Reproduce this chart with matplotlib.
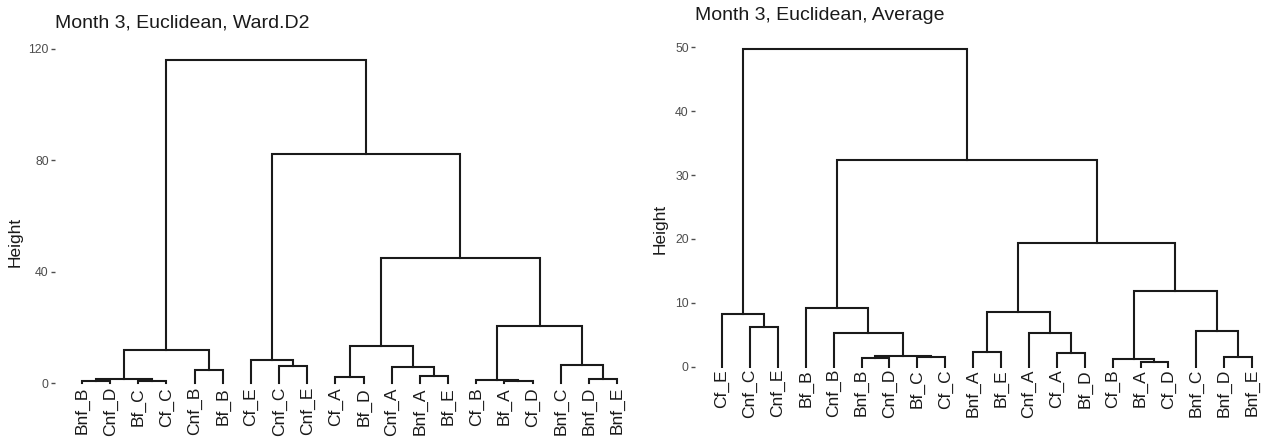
import matplotlib
matplotlib.use('Agg')
import matplotlib.pyplot as plt
import numpy as np

plt.rcParams['font.family'] = ['Liberation Sans', 'DejaVu Sans']

# Ward.D2 clustering, leaves in plotting order
ward_labels = ['Bnf_B', 'Cnf_D', 'Bf_C', 'Cf_C', 'Cnf_B', 'Bf_B', 'Cf_E', 'Cnf_C',
               'Cnf_E', 'Cf_A', 'Bf_D', 'Cnf_A', 'Bnf_A', 'Bf_E', 'Cf_B', 'Bf_A',
               'Cf_D', 'Bnf_C', 'Bnf_D', 'Bnf_E']
# hclust-style merge table: negative = leaf (1-based position), positive = earlier row
ward_merge = [(-16, -17), (-3, -4), (-1, -2), (-15, 1), (-19, -20), (3, 2),
              (-10, -11), (-13, -14), (-5, -6), (-12, 8), (-8, -9), (-18, 5),
              (-7, 11), (6, 9), (7, 10), (4, 12), (15, 16), (13, 17), (14, 18)]
ward_height = [0.7, 1.0, 0.8, 1.1, 1.4, 1.6, 2.1, 2.5, 4.9, 5.8, 6.1, 6.4,
               8.4, 11.8, 13.2, 20.5, 44.8, 82.2, 115.9]

# Average linkage clustering
avg_labels = ['Cf_E', 'Cnf_C', 'Cnf_E', 'Bf_B', 'Cnf_B', 'Bnf_B', 'Cnf_D', 'Bf_C',
              'Cf_C', 'Bnf_A', 'Bf_E', 'Cnf_A', 'Cf_A', 'Bf_D', 'Cf_B', 'Bf_A',
              'Cf_D', 'Bnf_C', 'Bnf_D', 'Bnf_E']
avg_merge = [(-16, -17), (-6, -7), (-8, -9), (-15, 1), (-19, -20), (2, 3),
             (-13, -14), (-10, -11), (-5, 6), (-12, 7), (-18, 5), (-2, -3),
             (-1, 12), (8, 10), (-4, 9), (4, 11), (14, 16), (15, 17), (13, 18)]
avg_height = [0.8, 1.3, 1.45, 1.25, 1.5, 1.7, 2.1, 2.3, 5.3, 5.3, 5.6, 6.2,
              8.2, 8.5, 9.2, 11.9, 19.4, 32.3, 49.7]

ward_ticks = [0, 40, 80, 120]
avg_ticks = [0, 10, 20, 30, 40, 50]

LINE_COLOR = '#1a1a1a'
TICK_COLOR = '#4d4d4d'
W, H = 1274, 441


def draw_dendrogram(ax, merge, height):
    # node -> (x, y); leaves sit on 0, joins sit midway between children
    pos = []

    def node(i):
        if i < 0:
            return (-i, 0.0)
        return pos[i - 1]

    for (a, b), h in zip(merge, height):
        xa, ya = node(a)
        xb, yb = node(b)
        ax.plot([xa, xa, xb, xb], [ya, h, h, yb], color=LINE_COLOR,
                lw=1.5, solid_joinstyle='miter', solid_capstyle='projecting')
        pos.append(((xa + xb) / 2.0, h))


def add_panel(box, leaf0, step, zero_px, unit_px, labels, merge, height,
              ticks, title, title_pad, ylabel_xy):
    left, top, right, bottom = box
    ax = fig.add_axes([left / W, 1 - bottom / H, (right - left) / W, (bottom - top) / H])
    draw_dendrogram(ax, merge, height)

    ax.set_xlim(1 - (leaf0 - left) / step, 1 + (right - leaf0) / step)
    ax.set_ylim((zero_px - bottom) / unit_px, (zero_px - top) / unit_px)

    ax.set_xticks(np.arange(1, len(labels) + 1))
    ax.set_xticklabels(labels, rotation=90, fontsize=12.5, color=LINE_COLOR)
    ax.tick_params(axis='x', length=0, pad=0.8)
    ax.set_yticks(ticks)
    ax.tick_params(axis='y', length=3, width=1, pad=1.5, colors=TICK_COLOR,
                   labelsize=8.8)

    for s in ax.spines.values():
        s.set_visible(False)

    ax.set_title(title, loc='left', fontsize=14, color=LINE_COLOR, pad=title_pad)
    ax.set_ylabel('Height', fontsize=12.5, color=LINE_COLOR)
    ax.yaxis.set_label_coords(*ylabel_xy)
    return ax


fig = plt.figure(figsize=(12.74, 4.41), dpi=100)

add_panel((55, 40, 640, 386), 82, 28.16, 383.3, 2.79,
          ward_labels, ward_merge, ward_height, ward_ticks,
          'Month 3, Euclidean, Ward.D2', 9, (-0.056, 0.415))

add_panel((695, 40, 1272, 368), 722, 27.9, 366.7, 6.39,
          avg_labels, avg_merge, avg_height, avg_ticks,
          'Month 3, Euclidean, Average', 14.5, (-0.047, 0.425))

fig.savefig('out.png', dpi=100)
